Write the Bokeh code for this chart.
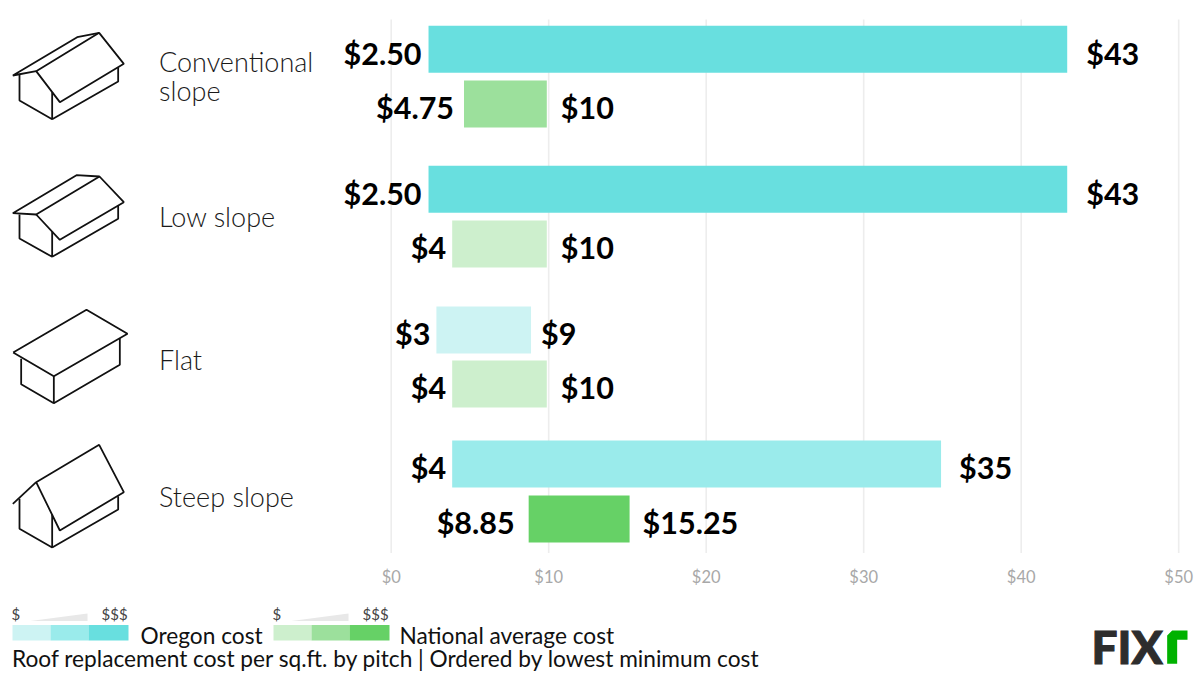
from bokeh.plotting import figure
from bokeh.models import Range1d, LinearAxis, FixedTicker, NumeralTickFormatter, ColumnDataSource
from bokeh.core.properties import value
from bokeh.embed import file_html
from bokeh.resources import INLINE

# ---- data ----
categories = ["Conventional\nslope", "Low slope", "Flat", "Steep slope"]
oregon_min = [2.5, 2.5, 3, 4]
oregon_max = [43, 43, 9, 35]
national_min = [4.75, 4, 4, 8.85]
national_max = [10, 10, 10, 15.25]
oregon_low_labels = ["$2.50", "$2.50", "$3", "$4"]
oregon_high_labels = ["$43", "$43", "$9", "$35"]
national_low_labels = ["$4.75", "$4", "$4", "$8.85"]
national_high_labels = ["$10", "$10", "$10", "$15.25"]
ticks = [0, 10, 20, 30, 40, 50]

# ---- colours (cost level) ----
TEAL = ["#CDF3F3", "#9AEBEB", "#68DFDF"]
GREEN = ["#CDEFCD", "#9CE09C", "#66D166"]
oregon_level = [2, 2, 0, 1]
national_level = [1, 0, 0, 2]

# ---- layout, in page pixels ----
PX0, PX1, PY0, PY1 = 0, 1200, 0, 675
BAR_X0, BAR_SCALE = 388.6, 15.77
GRID_X0, GRID_SCALE = 390.7, 15.75
oregon_top = [25.3, 165.3, 306, 440]
national_top = [80, 220, 360, 495]
BAR_H = 47
LABEL_SHIFT = 3.2
label_y = [75.5, 216, 359, 496]
low_gap = [[7, 10], [7, 6], [6, 6], [6, 14]]
high_gap = [[19, 14], [19, 14], [10, 14], [18, 13]]

p = figure(width=PX1 - PX0, height=PY1 - PY0, output_backend="svg", toolbar_location=None,
           x_range=Range1d((PX0 - BAR_X0) / BAR_SCALE, (PX1 - BAR_X0) / BAR_SCALE),
           y_range=Range1d(PY1, PY0), x_axis_type=None, y_axis_type=None,
           min_border=0, outline_line_color=None)
p.xgrid.visible = False
p.ygrid.visible = False
p.extra_x_ranges = {
    "px": Range1d(PX0, PX1),
    "grid": Range1d((PX0 - GRID_X0) / GRID_SCALE, (PX1 - GRID_X0) / GRID_SCALE),
}

# grid and axis
p.segment(x0=ticks, x1=ticks, y0=[19] * len(ticks), y1=[552.5] * len(ticks),
          x_range_name="grid", line_color="#EDEDED", line_width=1.6)
axis = LinearAxis(x_range_name="grid", ticker=FixedTicker(ticks=ticks),
                  formatter=NumeralTickFormatter(format="$0"), fixed_location=557)
axis.axis_line_color = None
axis.major_tick_line_color = None
axis.minor_tick_line_color = None
axis.major_label_text_font = "Lato"
axis.major_label_text_font_size = "16.5px"
axis.major_label_text_color = "#A8A8A8"
axis.major_label_standoff = 3
p.add_layout(axis, "below")

# bars
tops = []
lefts = []
rights = []
colors = []
low_text = []
high_text = []
low_off = []
high_off = []
for i in range(4):
    tops += [oregon_top[i], national_top[i]]
    lefts += [oregon_min[i], national_min[i]]
    rights += [oregon_max[i], national_max[i]]
    colors += [TEAL[oregon_level[i]], GREEN[national_level[i]]]
    low_text += [oregon_low_labels[i], national_low_labels[i]]
    high_text += [oregon_high_labels[i], national_high_labels[i]]
    low_off += [-g for g in low_gap[i]]
    high_off += high_gap[i]
mid = [t + BAR_H / 2 + LABEL_SHIFT for t in tops]
src = ColumnDataSource(dict(left=lefts, right=rights, top=tops, bottom=[t + BAR_H for t in tops],
                            color=colors, mid=mid, low_text=low_text, high_text=high_text,
                            low_off=low_off, high_off=high_off))
p.quad(left="left", right="right", top="top", bottom="bottom", fill_color="color", line_color=None, source=src)
LABEL_FONT = value("Lato")
p.text(x="left", y="mid", text="low_text", x_offset="low_off", text_align="right", text_baseline="middle",
       text_font=LABEL_FONT, text_font_style="bold", text_font_size="30.5px", text_color="#000000", source=src)
p.text(x="right", y="mid", text="high_text", x_offset="high_off", text_align="left", text_baseline="middle",
       text_font=LABEL_FONT, text_font_style="bold", text_font_size="30.5px", text_color="#000000", source=src)

# category labels
p.text(x=[158.5] * 4, y=label_y, text=categories, x_range_name="px", text_baseline="middle",
       text_font=value("Lato Light"), text_font_size="27px", text_color="#1A1A1A", text_line_height=0.85)

# house icons: outlines as in the 3x crops
icons = [
    (0, 20, [[(107,152),(178,245),(370,130),(296,37),(107,152)], [(107,152),(37,165),(230,50),(296,37)],
             [(57,160),(57,240),(155,296),(155,215)], [(155,296),(353,183),(353,140)]]),
    (0, 20, [[(107,582),(178,658),(370,545),(297,468),(107,582)], [(107,582),(37,578),(228,464),(297,468)],
             [(57,582),(57,654),(155,709),(155,632)], [(155,709),(353,595),(353,555)]]),
    (0, 290, [[(38,186),(160,257),(381,130),(258,58),(38,186)],
              [(62,205),(62,281),(160,338),(160,257)], [(160,338),(358,223),(358,143)]]),
    (0, 290, [[(107,575),(178,720),(370,605),(296,463),(107,575)], [(107,575),(37,640)],
              [(57,625),(57,715),(155,771),(155,672)], [(155,771),(353,657),(353,617)]]),
]
xs, ys = [], []
for ox, oy, lines in icons:
    for ln in lines:
        xs.append([ox + a / 3 for a, b in ln])
        ys.append([oy + b / 3 for a, b in ln])
p.multi_line(xs=xs, ys=ys, x_range_name="px", line_color="#111111", line_width=1.8, line_join="bevel")

# legend
for x0, cols, tx in ((12, TEAL, 102), (273, GREEN, 363)):
    p.quad(left=[x0, x0 + 38, x0 + 76], right=[x0 + 38, x0 + 76, x0 + 116], top=[624.5] * 3, bottom=[640] * 3,
           fill_color=cols, line_color=None, x_range_name="px")
    p.patch(x=[x0 + 18, x0 + 75, x0 + 75], y=[620.5, 613, 620.5], x_range_name="px", fill_color="#E8E8E8", line_color=None)
    p.text(x=[x0 - 1, tx - 1], y=[613, 613], text=["$", "$$$"], x_range_name="px", text_baseline="middle",
           text_font=value("Lato"), text_font_size="15px", text_color="#444444")
p.text(x=[140, 399, 11.5], y=[635.2, 635.2, 657.5], text=["Oregon cost", "National average cost",
       "Roof replacement cost per sq.ft. by pitch | Ordered by lowest minimum cost"],
       x_range_name="px", text_baseline="middle", text_font=value("Lato"), text_font_size="22.7px", text_color="#111111")

# logo
p.text(x=[1091], y=[646], text=["FIX"], x_range_name="px", text_baseline="middle",
       text_font=value("Lato Black"), text_font_size="46px", text_color="#2D2D2D", text_outline_color="#2D2D2D")
r_shape = [(320,160),(320,75),(335,60),(381,60),(381,88),(350,88),(350,160)]
p.patch(x=[1060 + a / 3 for a, b in r_shape], y=[610 + b / 3 for a, b in r_shape], x_range_name="px",
        fill_color="#00B200", line_color=None)

open("out.html", "w").write(file_html(p, INLINE))
